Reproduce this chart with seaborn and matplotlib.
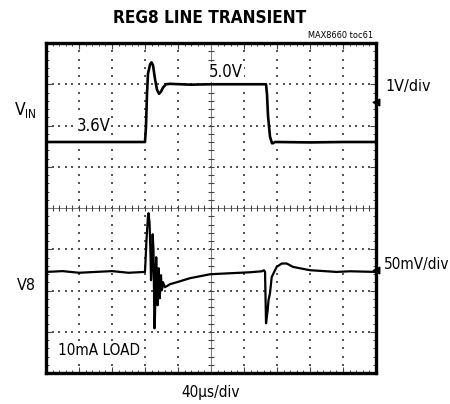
import numpy as np
import pandas as pd
import matplotlib
matplotlib.use("Agg")
import matplotlib.pyplot as plt
import seaborn as sns

# ---- scope traces ---------------------------------------------------------
# VIN channel: time (us) and voltage (V)
vin_t = [0, 120, 121.2, 122.4, 123.6, 126.1, 127.9, 129.7, 132.1, 134.5, 137.0,
         139.4, 141.8, 145.5, 150.3, 175, 200, 230, 260, 266.7, 267.9, 269.1,
         271.5, 273.9, 275.2, 277.6, 280.0, 320, 360, 400]
vin_v = [3.6, 3.6, 3.98, 4.75, 5.25, 5.48, 5.53, 5.46, 5.13, 4.87, 4.77,
         4.82, 4.92, 5.0, 5.01, 4.99, 5.0, 5.0, 5.0, 5.0, 4.75, 4.24,
         3.73, 3.57, 3.57, 3.6, 3.6, 3.59, 3.6, 3.6]

# V8 channel: time (us) and deviation from the regulated level (mV)
v8_t = [0, 20, 40, 60, 80, 100, 120, 121.8, 123.6, 124.2, 125.5, 126.7, 127.3,
        128.5, 129.3, 130.3, 130.9, 131.5, 132.1, 133.1, 133.6, 134.5, 135.2,
        136.0, 136.5, 137.3, 137.9, 138.8, 139.4, 140.2, 141.0, 141.8, 144.2,
        150.3, 162.4, 174.5, 186.7, 198.8, 223.0, 247.3, 261.8, 264.2, 265.5,
        266.7, 268.7, 269.7, 271.5, 273.6, 279.6, 285.7, 291.8, 299.4, 320,
        352.4, 368.5, 400]
v8_mv = [0, 1, -1, 0, 1, -1, 0, 38.4, 67.5, 71.2, 60.2, 20.2, -10.1,
         11.8, 45.7, 26.3, -22.4, -68.4, -52.7, 2.1, 17.8, -12.5, -40.4,
         -16.1, 4.5, -10.1, -31.9, -13.7, -4.0, -22.2, -19.8, -12.5, -18.5,
         -14.9, -11.3, -7.6, -5.2, -2.8, -1.6, -0.4, 0.8, 2.1, 0.0,
         -62.2, -46.4, -34.3, -25.8, -6.1, 6.1, 10.2, 10.2, 6.1, 2.1,
         0.0, 0.8, 0.0]

# ---- scope settings ---------------------------------------------------------
US_PER_DIV = 40.0
VIN_V_PER_DIV = 1.0
VIN_OFFSET_DIV = 2.0      # screen position of 0 V on the VIN channel
V8_MV_PER_DIV = 50.0
V8_ZERO_DIV = 2.45        # screen position of the V8 reference level
N_XDIV, N_YDIV = 10, 8

sns.set_style("white")
plt.rcParams["font.family"] = ["DejaVu Sans"]
plt.rcParams["font.stretch"] = "condensed"
plt.rcParams["text.color"] = "black"

fig = plt.figure(figsize=(4.5, 4.04), dpi=100)
ax = fig.add_axes([46 / 450, 1 - 373 / 404, 330 / 450, 330 / 404])
ax.set_xlim(0, N_XDIV)
ax.set_ylim(0, N_YDIV)

# graticule: dotted division lines
grid_col = "#555555"
minor_x = np.arange(0, N_XDIV + 1e-9, 0.2)
minor_y = np.arange(0, N_YDIV + 1e-9, 0.2)
for gx in range(1, N_XDIV):
    if gx == N_XDIV // 2:
        continue
    ax.scatter(np.full_like(minor_y, gx), minor_y, s=1.6, color=grid_col,
               marker="s", linewidths=0, zorder=1)
for gy in range(1, N_YDIV):
    if gy == N_YDIV // 2:
        continue
    ax.scatter(minor_x, np.full_like(minor_x, gy), s=1.6, color=grid_col,
               marker="s", linewidths=0, zorder=1)

# centre cross with fine tick marks
ax.axhline(N_YDIV / 2, color="#777777", lw=0.7, zorder=1)
ax.axvline(N_XDIV / 2, color="#777777", lw=0.7, zorder=1)
ax.scatter(minor_x, np.full_like(minor_x, N_YDIV / 2), marker="|", s=14,
           color="#444444", linewidths=0.8, zorder=1)
ax.scatter(np.full_like(minor_y, N_XDIV / 2), minor_y, marker="_", s=14,
           color="#444444", linewidths=0.8, zorder=1)

# frame ticks pointing inward
ax.set_xticks(np.arange(0, N_XDIV + 1))
ax.set_yticks(np.arange(0, N_YDIV + 1))
ax.set_xticks(minor_x, minor=True)
ax.set_yticks(minor_y, minor=True)
ax.tick_params(which="both", direction="in", colors="#444444",
               top=True, right=True, bottom=True, left=True,
               labelbottom=False, labelleft=False)
ax.tick_params(which="major", length=4, width=0.8)
ax.tick_params(which="minor", length=2.5, width=0.7)
for sp in ax.spines.values():
    sp.set_color("black")
    sp.set_linewidth(2.4)

# traces
vin_df = pd.DataFrame({
    "div_x": np.array(vin_t) / US_PER_DIV,
    "div_y": np.array(vin_v) / VIN_V_PER_DIV + VIN_OFFSET_DIV,
})
v8_df = pd.DataFrame({
    "div_x": np.array(v8_t) / US_PER_DIV,
    "div_y": V8_ZERO_DIV + np.array(v8_mv) / V8_MV_PER_DIV,
})
sns.lineplot(data=vin_df, x="div_x", y="div_y", ax=ax, color="black",
             linewidth=1.9, estimator=None, sort=False, zorder=3,
             solid_joinstyle="round")
sns.lineplot(data=v8_df, x="div_x", y="div_y", ax=ax, color="black",
             linewidth=1.6, estimator=None, sort=False, zorder=3,
             solid_joinstyle="round")
ax.set_xlabel("")
ax.set_ylabel("")

# channel position markers on the right edge
ax.scatter([N_XDIV, N_XDIV], [6.58, 2.5], marker="<", s=22, color="black",
           clip_on=False, zorder=4)

# in-screen annotations
box = dict(facecolor="white", edgecolor="none", pad=0.6)
ax.text(4.93, 7.0 + 0.3, "5.0V", fontsize=12, ha="left", va="center", bbox=box, zorder=2)
ax.text(0.93, 5.6 + 0.4, "3.6V", fontsize=12, ha="left", va="center", bbox=box, zorder=2)
ax.text(0.36, 0.55, "10mA LOAD", fontsize=11, ha="left", va="center", bbox=box, zorder=2)

# figure text
fig.text(210 / 450, 1 - 18 / 404, "REG8 LINE TRANSIENT", fontsize=12.3,
         fontweight="heavy", ha="center", va="center")
fig.text(373 / 450, 1 - 36 / 404, "MAX8660 toc61", fontsize=6.6,
         ha="right", va="center")
fig.text(15 / 450, 1 - 110 / 404, "V", fontsize=12.5, ha="left", va="center")
fig.text(25 / 450, 1 - 115 / 404, "IN", fontsize=8.5, ha="left", va="center")
fig.text(17 / 450, 1 - 285 / 404, "V8", fontsize=11.5, ha="left", va="center")
fig.text(385 / 450, 1 - 86 / 404, "1V/div", fontsize=11.5, ha="left", va="center")
fig.text(384 / 450, 1 - 264 / 404, "50mV/div", fontsize=11, ha="left", va="center")
fig.text(210.5 / 450, 1 - 392 / 404, "40\u00b5s/div", fontsize=11, ha="center", va="center")

fig.savefig("out.png", dpi=100, facecolor="white")
